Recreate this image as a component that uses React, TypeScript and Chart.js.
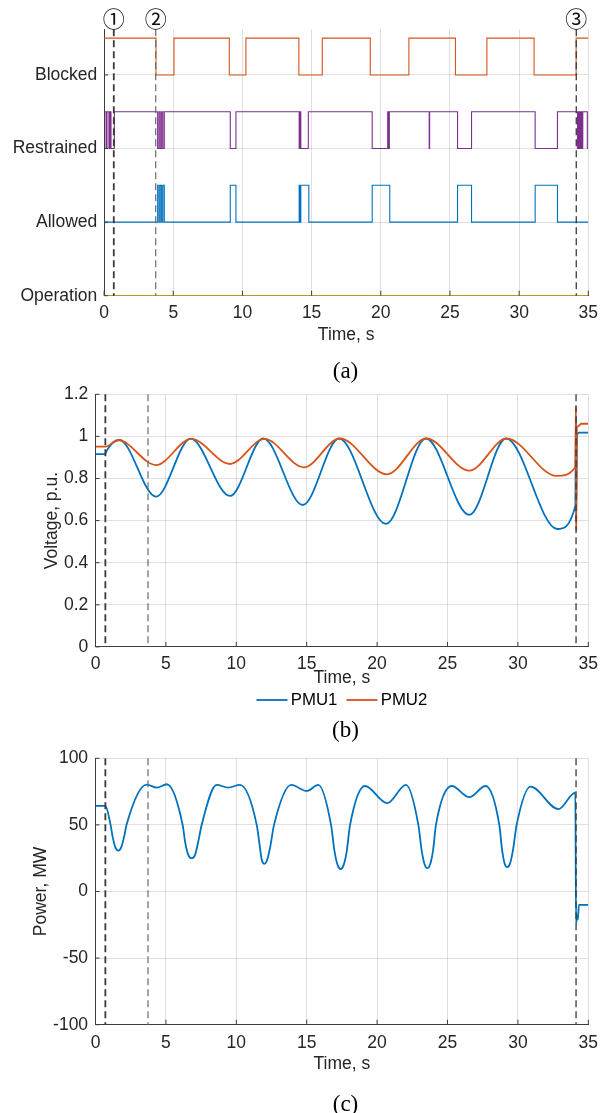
import React, { useEffect, useRef } from 'react';
import { Chart, registerables } from 'chart.js';
Chart.register(...registerables);

const SANS = '"Liberation Sans", Arial, Helvetica, sans-serif';
const SERIF = '"Liberation Serif", "Times New Roman", serif';
const FS = 17.5;
const TXT = '#262626';
const GRID = 'rgba(38,38,38,0.14)';
const AXIS = '#3d3d3d';
const BLUE = '#0072BD';
const ORANGE = '#D95319';
const PURPLE = '#7E2F8E';
const YELLOW = '#EDB120';

// ---------- shared ----------
const xTicks = [0, 5, 10, 15, 20, 25, 30, 35];
const eventTimes = [0.7, 3.73, 34.13];
const eventMarks = ['①', '②', '③'];
const eventColors = ['#3a3a3a', '#6a6a6a', '#3a3a3a'];
const eventWidths = [1.8, 1.2, 1.3];

// ---------- panel (a): protection states ----------
const stateNames = ['Operation', 'Allowed', 'Restrained', 'Blocked'];
const stateLevels = [0, 1, 2, 3];

const blockedTimes = [0, 3.75, 5.05, 9.05, 10.25, 14.08, 15.77, 19.24, 22.03, 25.4, 27.67, 31.08, 34.12, 35];
const blockedStates = [1, 0, 1, 0, 1, 0, 1, 0, 1, 0, 1, 0, 1, 1];

const restrainedTimes = [0, 0.14, 0.21, 0.35, 0.43, 0.5, 0.74, 3.87, 3.97, 4.06, 4.16, 4.25, 4.35, 9.12, 9.53,
  14.1, 14.15, 14.22, 14.76, 19.38, 20.5, 20.55, 20.62, 23.5, 23.53, 25.55, 26.56, 31.16, 32.77,
  34.22, 34.28, 34.34, 34.4, 34.46, 34.52, 34.56, 34.6, 34.93, 35];
const restrainedStates = [1, 0, 1, 0, 1, 0, 1, 0, 1, 0, 1, 0, 1, 0, 1,
  0, 1, 0, 1, 0, 1, 0, 1, 0, 1, 0, 1, 0, 1,
  0, 1, 0, 1, 0, 1, 0, 1, 0, 0];

const allowedTimes = [0, 3.87, 3.97, 4.06, 4.16, 4.25, 4.35, 9.12, 9.53, 14.1, 14.15, 14.22, 14.8, 19.38, 20.65, 25.55, 26.56, 31.16, 32.77, 35];
const allowedStates = [0, 1, 0, 1, 0, 1, 0, 1, 0, 1, 0, 1, 0, 1, 0, 1, 0, 1, 0, 0];

const operationTimes = [0, 35];
const operationStates = [0, 0];

// ---------- panel (b): voltage ----------
const pmu1Times = [0, 0.7, 0.78, 1.69, 4.3, 6.76, 9.55, 11.92, 14.72, 17.3, 20.63, 23.47, 26.55, 29.16, 32.8, 34.08, 34.12, 34.14, 34.2, 34.35, 35];
const pmu1Volts = [0.916, 0.916, 0.93, 0.983, 0.714, 0.989, 0.717, 0.99, 0.674, 0.99, 0.584, 0.99, 0.627, 0.99, 0.56, 0.67, 1.1, 0.6, 1.005, 1.018, 1.018];
const pmu2Times = [0, 0.7, 1.6, 4.3, 6.8, 9.55, 12.0, 14.8, 17.35, 20.7, 23.5, 26.55, 29.2, 32.75, 34.08, 34.12, 34.14, 34.18, 34.3, 34.5, 35];
const pmu2Volts = [0.951, 0.951, 0.983, 0.864, 0.988, 0.869, 0.988, 0.853, 0.99, 0.82, 0.99, 0.837, 0.99, 0.812, 0.853, 1.14, 0.555, 1.04, 1.05, 1.06, 1.06];
const voltTicks = [0, 0.2, 0.4, 0.6, 0.8, 1, 1.2];

// ---------- panel (c): power ----------
const powerTimes = [0, 0.7, 1.07, 1.2, 1.4, 1.62, 1.84, 2.05, 2.2, 3.64, 4.35, 5.06,
  6.19, 6.36, 6.59, 6.83, 7.07, 7.3, 7.54, 8.6, 9.43, 10.26,
  11.45, 11.68, 11.8, 12.0, 12.2, 12.4, 12.68, 13.9, 15.0, 15.82,
  16.73, 16.98, 17.2, 17.41, 17.62, 17.84, 18.08, 19.14, 20.72, 22.05,
  22.93, 23.17, 23.37, 23.57, 23.77, 23.97, 24.18, 25.3, 26.55, 27.7,
  28.68, 28.88, 29.05, 29.25, 29.45, 29.65, 29.91, 30.9, 32.87, 34.08, 34.13, 34.2, 34.26, 34.33, 35];
const powerMW = [64.3, 64.3, 50, 42, 33.5, 30.7, 33.5, 42, 50, 80.3, 78, 80.5,
  50, 37.5, 27.5, 25, 27.5, 37.5, 50, 80, 78, 80,
  50, 33, 24, 20.8, 24, 33, 50, 80, 75.5, 80,
  50, 30, 19.8, 16.8, 19.8, 30, 50, 79.2, 66.3, 80,
  50, 30.5, 20.5, 17.5, 20.5, 30.5, 50, 79.2, 70.8, 79.2,
  50, 31, 21.3, 18.3, 21.3, 31, 50, 78.7, 61.8, 74.2, -24, -18, -21, -10, -10];
const powerTicks = [-100, -50, 0, 50, 100];

const pts = (xs: number[], ys: number[]) => xs.map((x, i) => ({ x, y: ys[i] }));
const steps = (xs: number[], st: number[], level: number) => xs.map((x, i) => ({ x, y: level + 0.5 * st[i] }));

type Spec = {
  offset: number; height: number; yW: number; topPad: number; xH: number;
  yMin: number; yMax: number; yTicks: number[]; yLabel: (v: number) => string;
  xTickPad: number; yTickPad: number; titlePB: number;
  yTitle?: string; yTitlePad?: number;
  caption: string; captionBase: number; marks: boolean; legendY?: number;
  datasets: any[];
};

const eventPlugin = (marks: boolean) => ({
  id: 'events',
  afterDatasetsDraw(chart: any) {
    const { ctx, chartArea: a, scales } = chart;
    const x = scales.x;
    ctx.save();
    eventTimes.forEach((t, i) => {
      const px = x.getPixelForValue(t);
      ctx.beginPath();
      ctx.setLineDash([7, 4]);
      ctx.lineWidth = eventWidths[i];
      ctx.strokeStyle = eventColors[i];
      ctx.moveTo(px, a.top);
      ctx.lineTo(px, a.bottom);
      ctx.stroke();
      if (marks) {
        ctx.setLineDash([]);
        ctx.font = '22px "Noto Sans CJK JP", "DejaVu Sans", sans-serif';
        ctx.fillStyle = '#111';
        ctx.textAlign = 'center';
        ctx.textBaseline = 'middle';
        ctx.fillText(eventMarks[i], px, 18.3);
      }
    });
    ctx.restore();
  },
});

const tickPlugin = {
  id: 'innerTicks',
  afterDatasetsDraw(chart: any) {
    const { ctx, chartArea: a, scales } = chart;
    ctx.save();
    ctx.strokeStyle = AXIS;
    ctx.lineWidth = 1;
    ctx.beginPath();
    scales.x.ticks.forEach((t: any) => {
      const px = scales.x.getPixelForValue(t.value);
      ctx.moveTo(px, a.bottom);
      ctx.lineTo(px, a.bottom - 5);
    });
    scales.y.ticks.forEach((t: any) => {
      const py = scales.y.getPixelForValue(t.value);
      ctx.moveTo(a.left, py);
      ctx.lineTo(a.left + 4, py);
    });
    ctx.stroke();
    ctx.restore();
  },
};

const captionPlugin = (text: string, base: number) => ({
  id: 'caption',
  afterDraw(chart: any) {
    const ctx = chart.ctx;
    ctx.save();
    ctx.font = `23px ${SERIF}`;
    ctx.fillStyle = '#000';
    ctx.textAlign = 'center';
    ctx.textBaseline = 'alphabetic';
    ctx.fillText(text, 345.5, base);
    ctx.restore();
  },
});

const legendPlugin = (y: number) => ({
  id: 'lineLegend',
  afterDraw(chart: any) {
    const ctx = chart.ctx;
    const ds = chart.data.datasets;
    ctx.save();
    ctx.font = `16.8px ${SANS}`;
    const lineW = 31, gapT = 3.3, gapI = 9;
    const widths = ds.map((d: any) => lineW + gapT + ctx.measureText(d.label).width);
    const total = widths.reduce((s: number, w: number) => s + w, 0) + gapI * (ds.length - 1);
    let x = (chart.chartArea.left + chart.chartArea.right) / 2 - total / 2;
    ds.forEach((d: any, i: number) => {
      ctx.beginPath();
      ctx.strokeStyle = d.borderColor;
      ctx.lineWidth = 1.8;
      ctx.moveTo(x, y);
      ctx.lineTo(x + lineW, y);
      ctx.stroke();
      ctx.fillStyle = '#000';
      ctx.textAlign = 'left';
      ctx.textBaseline = 'middle';
      ctx.fillText(d.label, x + lineW + gapT, y);
      x += widths[i] + gapI;
    });
    ctx.restore();
  },
});

const zeroPad = (s: any) => { s.paddingLeft = 0; s.paddingRight = 0; s.paddingTop = 0; s.paddingBottom = 0; };

function buildConfig(p: Spec): any {
  const plugins: any[] = [tickPlugin, eventPlugin(p.marks), captionPlugin(p.caption, p.captionBase)];
  if (p.legendY !== undefined) plugins.push(legendPlugin(p.legendY));
  return {
    type: 'line',
    data: { datasets: p.datasets },
    plugins,
    options: {
      animation: false,
      responsive: false,
      events: [],
      layout: { padding: { left: 0, right: 21.7, top: p.topPad, bottom: 0 } },
      elements: { point: { radius: 0 } },
      plugins: { legend: { display: false }, tooltip: { enabled: false } },
      scales: {
        x: {
          type: 'linear', min: 0, max: 35,
          afterBuildTicks: (s: any) => { s.ticks = xTicks.map((v) => ({ value: v })); },
          afterFit: (s: any) => { s.height = p.xH; zeroPad(s); },
          grid: { color: GRID, drawTicks: false, lineWidth: 1 },
          border: { display: true, color: AXIS, width: 1 },
          ticks: { color: TXT, font: { family: SANS, size: FS }, padding: p.xTickPad, maxRotation: 0, autoSkip: false, callback: (v: any) => String(v) },
          title: { display: true, text: 'Time, s', color: TXT, font: { family: SANS, size: FS }, padding: { top: 0, bottom: p.titlePB } },
        },
        y: {
          type: 'linear', min: p.yMin, max: p.yMax,
          afterBuildTicks: (s: any) => { s.ticks = p.yTicks.map((v) => ({ value: v })); },
          afterFit: (s: any) => { s.width = p.yW; zeroPad(s); },
          grid: { color: GRID, drawTicks: false, lineWidth: 1 },
          border: { display: true, color: AXIS, width: 1 },
          ticks: { color: TXT, font: { family: SANS, size: FS }, padding: p.yTickPad, autoSkip: false, callback: (v: any) => p.yLabel(Number(v)) },
          title: p.yTitle
            ? { display: true, text: p.yTitle, color: TXT, font: { family: SANS, size: FS }, padding: { top: p.yTitlePad, bottom: 0 } }
            : { display: false },
        },
      },
    },
  };
}

const stepDs = (label: string, times: number[], states: number[], level: number, color: string, w = 1.1) => ({
  label, data: steps(times, states, level), borderColor: color, backgroundColor: color,
  borderWidth: w, stepped: 'before', fill: false, pointRadius: 0,
});

const specs: Spec[] = [
  {
    offset: 0, height: 386, yW: 104.1, topPad: 29.3, xH: 90.3,
    yMin: 0, yMax: 3.62, yTicks: stateLevels,
    yLabel: (v) => stateNames[stateLevels.indexOf(Math.round(v))] ?? '',
    xTickPad: 6.8, yTickPad: 6.8, titlePB: 40.2,
    caption: '(a)', captionBase: 377.7, marks: true,
    datasets: [
      stepDs('Blocked', blockedTimes, blockedStates, 3, ORANGE),
      stepDs('Restrained', restrainedTimes, restrainedStates, 2, PURPLE),
      stepDs('Allowed', allowedTimes, allowedStates, 1, BLUE),
      stepDs('Operation', operationTimes, operationStates, 0, YELLOW, 1.6),
    ],
  },
  {
    offset: 386, height: 364, yW: 95.5, topPad: 8.3, xH: 103.1,
    yMin: 0, yMax: 1.2, yTicks: voltTicks,
    yLabel: (v) => String(Math.round(v * 10) / 10),
    xTickPad: 7.2, yTickPad: 7.2, titlePB: 61.6,
    yTitle: 'Voltage, p.u.', yTitlePad: 42,
    caption: '(b)', captionBase: 351, marks: false, legendY: 314,
    datasets: [
      { label: 'PMU1', data: pts(pmu1Times, pmu1Volts), borderColor: BLUE, backgroundColor: BLUE, borderWidth: 1.8, cubicInterpolationMode: 'monotone', pointRadius: 0, order: 1 },
      { label: 'PMU2', data: pts(pmu2Times, pmu2Volts), borderColor: ORANGE, backgroundColor: ORANGE, borderWidth: 1.8, cubicInterpolationMode: 'monotone', pointRadius: 0, order: 0 },
    ],
  },
  {
    offset: 750, height: 363, yW: 95.5, topPad: 8.3, xH: 88.3,
    yMin: -100, yMax: 100, yTicks: powerTicks,
    yLabel: (v) => String(v),
    xTickPad: 8.4, yTickPad: 7.4, titlePB: 38,
    yTitle: 'Power, MW', yTitlePad: 30.8,
    caption: '(c)', captionBase: 361, marks: false,
    datasets: [
      { label: 'Power', data: pts(powerTimes, powerMW), borderColor: BLUE, backgroundColor: BLUE, borderWidth: 1.8, cubicInterpolationMode: 'monotone', pointRadius: 0 },
    ],
  },
];

function Panel({ spec }: { spec: Spec }) {
  const ref = useRef<HTMLCanvasElement>(null);
  useEffect(() => {
    const chart = new Chart(ref.current as HTMLCanvasElement, buildConfig(spec));
    return () => chart.destroy();
  }, [spec]);
  return (
    <canvas
      ref={ref}
      width={610}
      height={spec.height}
      style={{ position: 'absolute', left: 0, top: spec.offset, width: 610, height: spec.height }}
    />
  );
}

export default function App() {
  return (
    <div style={{ position: 'absolute', left: 0, top: 0, width: 610, height: 1113, background: '#fff', overflow: 'hidden' }}>
      {specs.map((s, i) => (
        <Panel key={i} spec={s} />
      ))}
    </div>
  );
}
